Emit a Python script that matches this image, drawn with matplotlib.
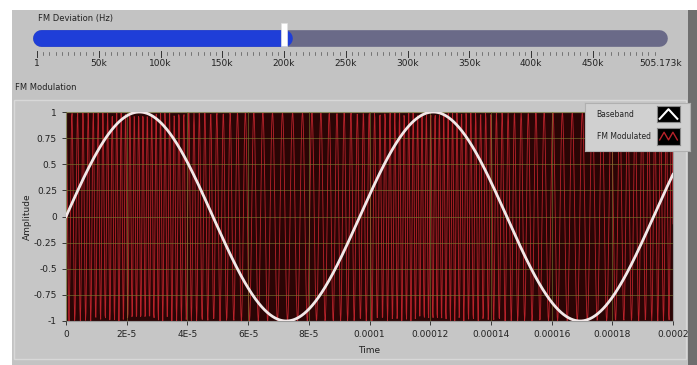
import numpy as np
import matplotlib.pyplot as plt
from matplotlib.patches import Rectangle

plt.rcParams['font.family'] = ['Liberation Sans Narrow', 'DejaVu Sans']

# slider (FM deviation control)
slider_ticks = [1, 50e3, 100e3, 150e3, 200e3, 250e3, 300e3, 350e3, 400e3, 450e3, 505173]
slider_labels = ["1", "50k", "100k", "150k", "200k", "250k", "300k", "350k", "400k", "450k", "505.173k"]
slider_max = 505173
fm_deviation = 200e3

# signal parameters
baseband_freq = 10.33e3     # Hz
carrier_freq = 500e3        # Hz
t_end = 0.0002
n_samples = 1400

x_ticks = [0, 2e-5, 4e-5, 6e-5, 8e-5, 1e-4, 1.2e-4, 1.4e-4, 1.6e-4, 1.8e-4, 2e-4]
x_labels = ["0", "2E-5", "4E-5", "6E-5", "8E-5", "0.0001", "0.00012", "0.00014", "0.00016", "0.00018", "0.0002"]
y_ticks = [1, 0.75, 0.5, 0.25, 0, -0.25, -0.5, -0.75, -1]
y_labels = ["1", "0.75", "0.5", "0.25", "0", "-0.25", "-0.5", "-0.75", "-1"]

W, H = 697, 365
PANEL = "#c3c3c3"
fig = plt.figure(figsize=(W / 100, H / 100), dpi=100, facecolor="white")

def fx(px):
    return px / W

def fy(py):
    return 1 - py / H

# front panel background
fig.patches.append(Rectangle((fx(12), 0), fx(676), fy(10), transform=fig.transFigure,
                             facecolor=PANEL, edgecolor="none", zorder=-3))
fig.patches.append(Rectangle((fx(688), 0), fx(9), fy(10), transform=fig.transFigure,
                             facecolor="#6e6e6e", edgecolor="none", zorder=-3))
fig.patches.append(Rectangle((fx(14), fy(359)), fx(672), fy(100) - fy(359), transform=fig.transFigure,
                             facecolor="#c6c6c6", edgecolor="#d8d8d8", lw=1, zorder=-2))

# ---- slider ----
axS = fig.add_axes([fx(37), fy(75), fx(661 - 37), fy(20) - fy(75)])
axS.set_xlim(1, slider_max)
axS.set_ylim(0, 1)
axS.axis("off")
px_val = slider_max / 624.0
axS.plot([4 * px_val, slider_max - 2 * px_val], [0.68, 0.68], color="#6a6a88", lw=12,
         solid_capstyle="round", clip_on=False)
axS.plot([4 * px_val, fm_deviation], [0.68, 0.68], color="#1f3ed8", lw=12,
         solid_capstyle="round", clip_on=False)
axS.add_patch(Rectangle((fm_deviation - 3 * px_val, 0.53), 6 * px_val, 0.42, facecolor="white",
                        edgecolor="#e0e0e0", lw=0.5, zorder=5, clip_on=False))
for v in np.arange(0, slider_max, 5000):
    axS.plot([max(v, 1)] * 2, [0.41, 0.36], color="#555555", lw=0.5)
for v, lab in zip(slider_ticks, slider_labels):
    axS.plot([v, v], [0.43, 0.33], color="#333333", lw=0.7)
    axS.text(v, 0.2, lab, ha="center", va="center", fontsize=6.5, color="#222222")
fig.text(fx(38), fy(18), "FM Deviation (Hz)", fontsize=6, color="#222222", va="center")
fig.text(fx(15), fy(88), "FM Modulation", fontsize=6, color="#222222", va="center")

# ---- graph ----
t = np.linspace(0, t_end, n_samples)
baseband = np.sin(2 * np.pi * baseband_freq * t)
beta = fm_deviation / baseband_freq
fm = np.cos(2 * np.pi * carrier_freq * t + beta * (1 - np.cos(2 * np.pi * baseband_freq * t)))

ax = fig.add_axes([fx(66), fy(321), fx(673 - 66), fy(112) - fy(321)])
ax.set_facecolor("#2a0505")
ax.plot(t, fm, color="#b8222a", lw=0.6, zorder=2)
ax.plot(t, baseband, color="#f2e8e8", lw=2, zorder=4)
ax.set_xlim(0, t_end)
ax.set_ylim(-1, 1)
ax.set_xticks(x_ticks)
ax.set_xticklabels(x_labels)
ax.set_yticks(y_ticks)
ax.set_yticklabels(y_labels)
ax.tick_params(labelsize=6.5, colors="#222222", length=3, width=0.6)
ax.grid(True, color="#7a7a30", lw=0.6, alpha=0.7, zorder=3)
ax.set_axisbelow(False)
for s in ax.spines.values():
    s.set_color("#9a9a9a")
ax.set_xlabel("Time", fontsize=6.5, color="#222222")
ax.set_ylabel("Amplitude", fontsize=6.5, color="#222222")
ax.xaxis.set_label_coords(0.5, -0.12)
ax.yaxis.set_label_coords(-0.056, 0.5)

# ---- legend ----
axL = fig.add_axes([fx(585), fy(151), fx(105), fy(103) - fy(151)])
axL.set_xlim(0, 1)
axL.set_ylim(0, 1)
axL.set_xticks([])
axL.set_yticks([])
axL.set_facecolor("#d0d0d0")
for s in axL.spines.values():
    s.set_color("#b0b0b0")
axL.text(0.11, 0.76, "Baseband", fontsize=5.5, color="#222222", va="center")
axL.text(0.11, 0.3, "FM Modulated", fontsize=5.5, color="#222222", va="center")

icon_x = [0, 0.5, 1]
axI1 = fig.add_axes([fx(657), fy(122), fx(23), fy(106) - fy(122)])
axI1.set_facecolor("black")
axI1.plot(icon_x, [0.2, 0.8, 0.2], color="white", lw=1.5)
axI2 = fig.add_axes([fx(657), fy(145), fx(23), fy(128) - fy(145)])
axI2.set_facecolor("black")
axI2.plot([0, 0.25, 0.5, 0.75, 1], [0.3, 0.75, 0.3, 0.75, 0.3], color="#b8222a", lw=1)
for a in (axI1, axI2):
    a.set_xlim(-0.15, 1.15)
    a.set_ylim(0, 1)
    a.set_xticks([])
    a.set_yticks([])
    for s in a.spines.values():
        s.set_color("#888888")

fig.savefig("out.png", dpi=100, facecolor=fig.get_facecolor())
